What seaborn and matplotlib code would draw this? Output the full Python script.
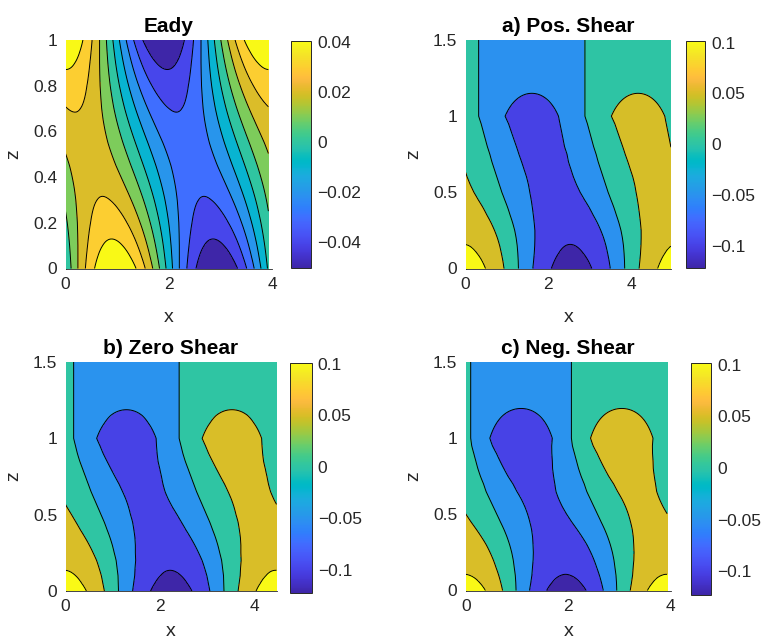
import numpy as np
import matplotlib
matplotlib.use("Agg")
import matplotlib.pyplot as plt
from matplotlib.colors import Normalize
import matplotlib.cm as cm
import seaborn as sns

# ---------------- colormap (MATLAB parula, 64 entries) ----------------
PARULA = [
    (0.2422, 0.1504, 0.6603), (0.2504, 0.1650, 0.7076), (0.2578, 0.1818, 0.7511), (0.2647, 0.1978, 0.7952),
    (0.2706, 0.2147, 0.8364), (0.2751, 0.2342, 0.8710), (0.2783, 0.2559, 0.8991), (0.2803, 0.2782, 0.9221),
    (0.2813, 0.3006, 0.9414), (0.2810, 0.3228, 0.9579), (0.2795, 0.3447, 0.9717), (0.2760, 0.3667, 0.9829),
    (0.2699, 0.3892, 0.9906), (0.2602, 0.4123, 0.9952), (0.2440, 0.4358, 0.9988), (0.2206, 0.4603, 0.9973),
    (0.1963, 0.4847, 0.9892), (0.1834, 0.5074, 0.9798), (0.1786, 0.5289, 0.9682), (0.1764, 0.5499, 0.9520),
    (0.1687, 0.5703, 0.9359), (0.1540, 0.5902, 0.9218), (0.1460, 0.6091, 0.9079), (0.1380, 0.6276, 0.8973),
    (0.1248, 0.6459, 0.8883), (0.1113, 0.6635, 0.8763), (0.0952, 0.6798, 0.8598), (0.0689, 0.6948, 0.8394),
    (0.0297, 0.7082, 0.8163), (0.0036, 0.7203, 0.7917), (0.0067, 0.7312, 0.7660), (0.0433, 0.7411, 0.7394),
    (0.0964, 0.7500, 0.7120), (0.1408, 0.7584, 0.6842), (0.1717, 0.7670, 0.6554), (0.1938, 0.7758, 0.6251),
    (0.2161, 0.7843, 0.5923), (0.2470, 0.7918, 0.5567), (0.2906, 0.7973, 0.5188), (0.3406, 0.8008, 0.4789),
    (0.3909, 0.8029, 0.4354), (0.4456, 0.8024, 0.3909), (0.5044, 0.7993, 0.3480), (0.5616, 0.7942, 0.3045),
    (0.6174, 0.7876, 0.2612), (0.6720, 0.7793, 0.2227), (0.7242, 0.7698, 0.1910), (0.7738, 0.7598, 0.1646),
    (0.8203, 0.7498, 0.1535), (0.8634, 0.7406, 0.1596), (0.9035, 0.7330, 0.1774), (0.9393, 0.7288, 0.2100),
    (0.9728, 0.7298, 0.2394), (0.9956, 0.7434, 0.2371), (0.9970, 0.7659, 0.2199), (0.9952, 0.7893, 0.2028),
    (0.9892, 0.8136, 0.1885), (0.9786, 0.8386, 0.1766), (0.9676, 0.8639, 0.1643), (0.9610, 0.8890, 0.1537),
    (0.9597, 0.9135, 0.1423), (0.9628, 0.9373, 0.1265), (0.9691, 0.9606, 0.1064), (0.9769, 0.9839, 0.0805),
]

# ---------------- data ----------------
# Each panel: wave field psi(x, z) = -amp(z) * cos(2*pi*(x - x_min(z)) / wavelength)
# amp: amplitude at height z, x_min: x position of the trough at height z.

# Eady panel
eady_z = [0.0, 0.05, 0.1, 0.15, 0.2, 0.25, 0.3, 0.35, 0.4, 0.45, 0.5,
          0.55, 0.6, 0.65, 0.7, 0.75, 0.8, 0.85, 0.9, 0.95, 1.0]
eady_amp = [0.0500, 0.0458, 0.0420, 0.0386, 0.0355, 0.0329, 0.0306, 0.0288, 0.0275, 0.0266, 0.0264,
            0.0266, 0.0275, 0.0288, 0.0306, 0.0329, 0.0355, 0.0386, 0.0420, 0.0458, 0.0500]
eady_xmin = [2.930, 2.905, 2.877, 2.843, 2.803, 2.755, 2.701, 2.638, 2.568, 2.493, 2.415,
             2.337, 2.262, 2.192, 2.129, 2.075, 2.027, 1.987, 1.953, 1.925, 1.900]
eady_wavelength = 3.93
eady_xend = 3.93

# shear panels share vertical nodes
shear_z = [0.0, 0.05, 0.1, 0.15, 0.2, 0.25, 0.3, 0.35, 0.4, 0.45, 0.5,
           0.55, 0.6, 0.65, 0.7, 0.75, 0.8, 0.85, 0.9, 0.95, 1.0,
           1.05, 1.1, 1.15, 1.2, 1.3, 1.4, 1.5]

# a) positive shear
pos_amp = [0.121, 0.114, 0.107, 0.101, 0.095, 0.089, 0.084, 0.079, 0.075, 0.071, 0.068,
           0.066, 0.065, 0.065, 0.065, 0.066, 0.066, 0.067, 0.068, 0.069, 0.071,
           0.064, 0.057, 0.050, 0.045, 0.038, 0.032, 0.027]
pos_xmin = [2.56, 2.555, 2.545, 2.53, 2.505, 2.47, 2.42, 2.36, 2.30, 2.23, 2.16,
            2.10, 2.04, 1.98, 1.92, 1.87, 1.81, 1.76, 1.71, 1.66, 1.60,
            1.60, 1.60, 1.60, 1.60, 1.60, 1.60, 1.60]
pos_wavelength = 5.13
pos_xend = 4.96

# b) zero shear
zero_amp = [0.1225, 0.113, 0.105, 0.098, 0.091, 0.085, 0.079, 0.074, 0.070, 0.067, 0.065,
            0.063, 0.062, 0.062, 0.063, 0.065, 0.067, 0.069, 0.072, 0.075, 0.079,
            0.071, 0.063, 0.056, 0.048, 0.040, 0.034, 0.029]
zero_xmin = [2.24, 2.235, 2.23, 2.21, 2.19, 2.15, 2.11, 2.06, 2.00, 1.94, 1.87,
             1.80, 1.73, 1.66, 1.60, 1.54, 1.48, 1.42, 1.37, 1.33, 1.29,
             1.29, 1.29, 1.29, 1.29, 1.29, 1.29, 1.29]
zero_wavelength = 4.47
zero_xend = 4.47

# c) negative shear
neg_amp = [0.1225, 0.111, 0.101, 0.093, 0.086, 0.080, 0.075, 0.070, 0.066, 0.063, 0.061,
           0.060, 0.060, 0.061, 0.063, 0.066, 0.069, 0.073, 0.077, 0.083, 0.089,
           0.079, 0.069, 0.059, 0.049, 0.041, 0.035, 0.030]
neg_xmin = [1.965, 1.96, 1.95, 1.93, 1.91, 1.88, 1.84, 1.79, 1.73, 1.66, 1.59,
            1.52, 1.45, 1.38, 1.33, 1.27, 1.22, 1.18, 1.14, 1.10, 1.08,
            1.08, 1.08, 1.08, 1.08, 1.08, 1.08, 1.08]
neg_wavelength = 3.93
neg_xend = 3.93

eady_levels = [-0.04, -0.03, -0.02, -0.01, 0.0, 0.01, 0.02, 0.03, 0.04]
shear_levels = [-0.1, -0.05, 0.0, 0.05, 0.1]

titles = ["Eady", "a) Pos. Shear", "b) Zero Shear", "c) Neg. Shear"]
eady_cbticks = [-0.04, -0.02, 0.0, 0.02, 0.04]
eady_cblabels = ["\u22120.04", "\u22120.02", "0", "0.02", "0.04"]
shear_cbticks = [-0.1, -0.05, 0.0, 0.05, 0.1]
shear_cblabels = ["\u22120.1", "\u22120.05", "0", "0.05", "0.1"]
eady_yticks = [0, 0.2, 0.4, 0.6, 0.8, 1.0]
eady_yticklabels = ["0", "0.2", "0.4", "0.6", "0.8", "1"]
shear_yticks = [0, 0.5, 1.0, 1.5]
shear_yticklabels = ["0", "0.5", "1", "1.5"]
xticks = [0, 2, 4]
xticklabels = ["0", "2", "4"]

# ---------------- style ----------------
sns.set_style("white")
plt.rcParams["font.family"] = ["Liberation Sans", "DejaVu Sans"]
TXT = (0.15, 0.15, 0.15)
TICK_FS = 12.5
LABEL_FS = 14
TITLE_FS = 15
parula = sns.blend_palette(PARULA, n_colors=256, as_cmap=True)

W, H = 761, 644
fig = plt.figure(figsize=(W / 100, H / 100), dpi=100)


def box(l, t, r, b):
    return [l / W, 1 - b / H, (r - l) / W, (b - t) / H]


def panel(axpos, caxpos, z, amp, xmin, wavelength, xend, levels, vmin, vmax,
          xlim, ylim, yticks, yticklabels, cbticks, cblabels, title, xlabelpad):
    ax = fig.add_axes(box(*axpos))
    cax = fig.add_axes(box(*caxpos))
    z = np.asarray(z)
    amp = np.asarray(amp)
    xmin = np.asarray(xmin)
    x = np.linspace(0, xend, 300)
    field = -amp[:, None] * np.cos(2 * np.pi * (x[None, :] - xmin[:, None]) / wavelength)
    norm = Normalize(vmin, vmax)
    bounds = [-1.0] + list(levels) + [1.0]
    cols = [parula(0.0)] + [parula(norm(l)) for l in levels]
    ax.set_axisbelow(True)
    ax.contourf(x, z, field, levels=bounds, colors=cols, zorder=1)
    ax.contour(x, z, field, levels=levels, colors="k", linewidths=0.7,
               linestyles="solid", zorder=2)
    ax.set_xlim(*xlim)
    ax.set_ylim(*ylim)
    ax.set_facecolor("white")
    for s in ["top", "right"]:
        ax.spines[s].set_visible(False)
    for s in ["left", "bottom"]:
        ax.spines[s].set_color(TXT)
        ax.spines[s].set_linewidth(0.6)
        ax.spines[s].set_zorder(0.5)
    ax.set_xticks(xticks)
    ax.set_xticklabels(xticklabels)
    ax.set_yticks(yticks)
    ax.set_yticklabels(yticklabels)
    ax.tick_params(axis="both", length=0, pad=6, labelsize=TICK_FS, colors=TXT)
    ax.set_xlabel("x", fontsize=LABEL_FS, color=TXT, labelpad=xlabelpad)
    ax.set_ylabel("z", fontsize=LABEL_FS, color=TXT, labelpad=7.5)
    ax.set_title(title, fontsize=TITLE_FS, fontweight="bold", color="black", pad=6)

    cb = fig.colorbar(cm.ScalarMappable(norm=norm, cmap=parula), cax=cax)
    cb.set_ticks(cbticks)
    cb.set_ticklabels(cblabels)
    cb.ax.tick_params(direction="in", length=3, width=0.6, colors=TXT,
                      labelsize=TICK_FS, pad=4.5)
    cb.outline.set_edgecolor(TXT)
    cb.outline.set_linewidth(0.7)
    return ax


panel((65.5, 40, 272, 268.5), (291, 41, 311, 267.5), eady_z, eady_amp, eady_xmin,
      eady_wavelength, eady_xend, eady_levels, -0.050, 0.0405, (0, 4), (0, 1),
      eady_yticks, eady_yticklabels, eady_cbticks, eady_cblabels, titles[0], 12)
panel((465.5, 40, 671, 268.5), (686, 41, 705, 267.5), shear_z, pos_amp, pos_xmin,
      pos_wavelength, pos_xend, shear_levels, -0.121, 0.1015, (0, pos_xend), (0, 1.5),
      shear_yticks, shear_yticklabels, shear_cbticks, shear_cblabels, titles[1], 12)
panel((65.5, 362, 276.5, 591), (289.5, 362.5, 311.5, 593), shear_z, zero_amp, zero_xmin,
      zero_wavelength, zero_xend, shear_levels, -0.1225, 0.1015, (0, zero_xend), (0, 1.5),
      shear_yticks, shear_yticklabels, shear_cbticks, shear_cblabels, titles[2], 6.5)
panel((465.7, 362, 670.7, 590.5), (691, 363, 711, 594.5), shear_z, neg_amp, neg_xmin,
      neg_wavelength, neg_xend, shear_levels, -0.1225, 0.1015, (0, 4), (0, 1.5),
      shear_yticks, shear_yticklabels, shear_cbticks, shear_cblabels, titles[3], 6.5)

fig.savefig("out.png", dpi=100, facecolor="white")
